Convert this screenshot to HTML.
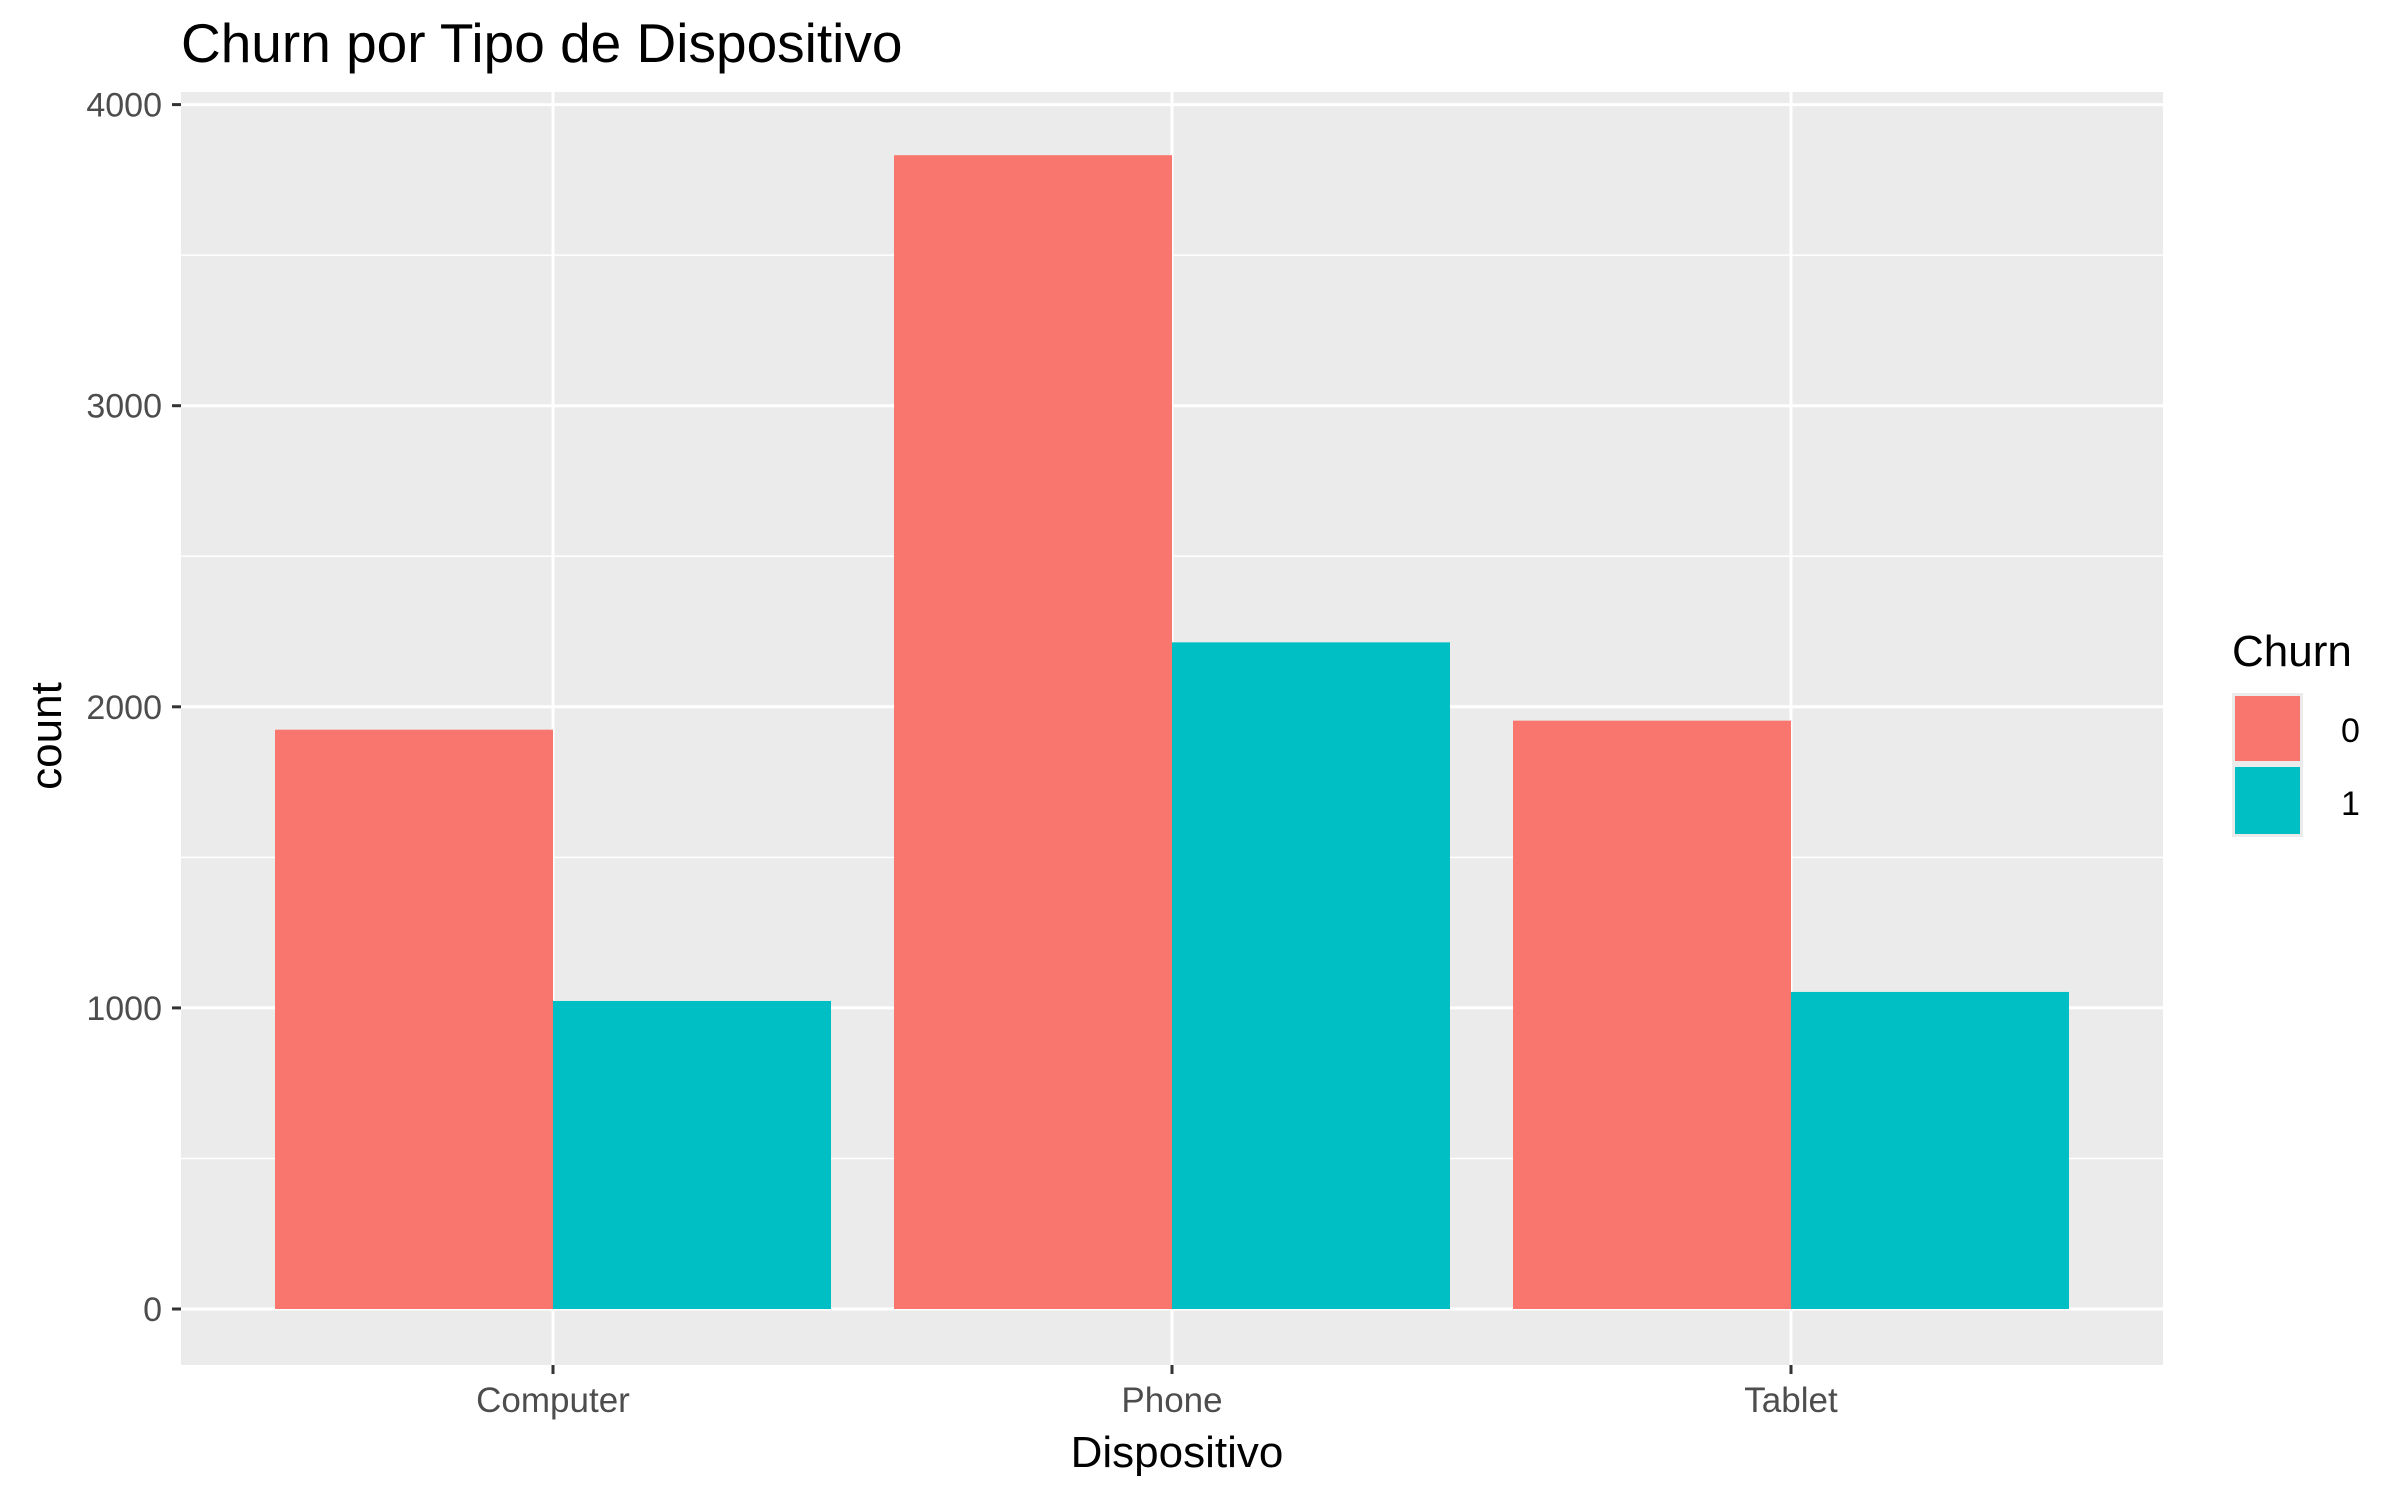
<!DOCTYPE html>
<html><head><meta charset="utf-8"><style>
body{margin:0;background:#fff;}
svg text{font-family:"Liberation Sans",sans-serif;}
</style></head><body>
<svg id="chart" width="2400" height="1500" xmlns="http://www.w3.org/2000/svg">
<rect width="2400" height="1500" fill="#fff"/>
<text x="181" y="62" font-size="55" fill="#000">Churn por Tipo de Dispositivo</text>
<rect x="181" y="92" width="1982" height="1273" fill="#ebebeb"/>
<g id="grid"></g><g id="bars"></g><g id="axes"></g>
<text transform="translate(61,736) rotate(-90)" text-anchor="middle" font-size="44" fill="#000">count</text>
<text x="1177" y="1467" text-anchor="middle" font-size="44" fill="#000">Dispositivo</text>
<g>
<text x="2232" y="666" font-size="44" fill="#000">Churn</text>
<rect x="2232" y="693" width="71" height="144" fill="#ebebeb"/>
<rect x="2235" y="696" width="65" height="65" fill="#F8766D"/>
<rect x="2235" y="767" width="65" height="67" fill="#00BFC4"/>
<text x="2341" y="742" font-size="34" fill="#000">0</text>
<text x="2341" y="815" font-size="34" fill="#000">1</text>
</g>
</svg>
<script>
const categories = ["Computer","Phone","Tablet"];
const churn0 = [1924, 3832, 1954];
const churn1 = [1023, 2214, 1053];
const yTicks = [0,1000,2000,3000,4000];
const NS="http://www.w3.org/2000/svg";
const y0=1309, pxPer=0.3011;
function yScale(v){return y0 - v*pxPer;}
function xScale(i){return 553 + i*619;}
const halfW=278;
function mk(tag,attrs,parent,txt){const e=document.createElementNS(NS,tag);for(const k in attrs)e.setAttribute(k,attrs[k]);if(txt!==undefined)e.textContent=txt;parent.appendChild(e);return e;}
const grid=document.getElementById('grid'),bars=document.getElementById('bars'),axes=document.getElementById('axes');
for(let v=500;v<=4000;v+=1000){const y=yScale(v);if(y>92){const l=mk('line',{x1:181,x2:2163,y1:y,y2:y,stroke:'#fff','stroke-width':1.5},grid);

}}
yTicks.forEach(v=>{const y=yScale(v);
const l=mk('line',{x1:181,x2:2163,y1:y,y2:y,stroke:'#fff','stroke-width':3},grid);


const t=mk('line',{x1:172,x2:181,y1:y,y2:y,stroke:'#333','stroke-width':3},axes);


const tx=mk('text',{x:162,y:y+12,'text-anchor':'end','font-size':34,fill:'#4d4d4d'},axes,String(v));

});
categories.forEach((c,i)=>{const x=xScale(i);
const g=mk('line',{x1:x,x2:x,y1:92,y2:1365,stroke:'#fff','stroke-width':3},grid);


const t=mk('line',{x1:x,x2:x,y1:1365,y2:1374,stroke:'#333','stroke-width':3},axes);


const tx=mk('text',{x:x,y:1412,'text-anchor':'middle','font-size':35,fill:'#4d4d4d'},axes,c);


const b0=mk('rect',{x:x-halfW,y:yScale(churn0[i]),width:halfW,height:y0-yScale(churn0[i]),fill:'#F8766D'},bars);


const b1=mk('rect',{x:x,y:yScale(churn1[i]),width:halfW,height:y0-yScale(churn1[i]),fill:'#00BFC4'},bars);

});
</script>
</body></html>
